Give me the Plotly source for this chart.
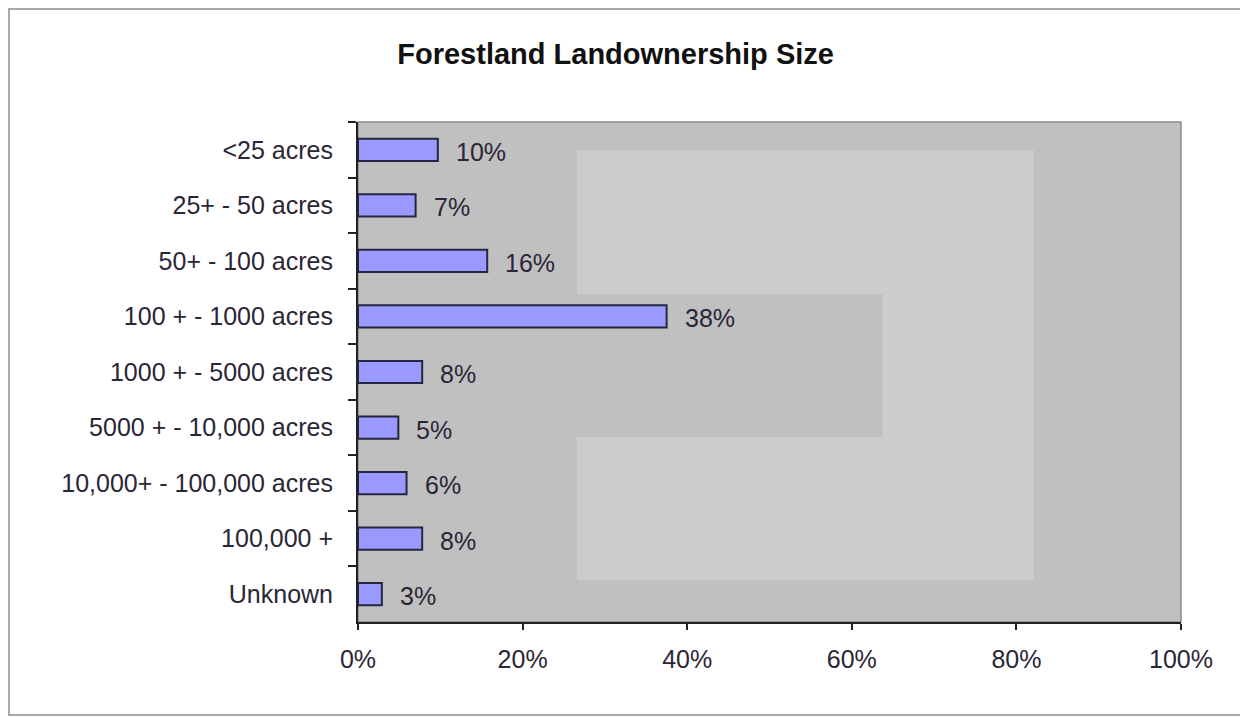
import plotly.graph_objects as go

categories = ["<25 acres", "25+ - 50 acres", "50+ - 100 acres", "100 + - 1000 acres",
              "1000 + - 5000 acres", "5000 + - 10,000 acres", "10,000+ - 100,000 acres",
              "100,000 +", "Unknown"]
values = [9.7, 7.0, 15.7, 37.5, 7.8, 4.9, 5.9, 7.8, 2.9]
value_labels = ["10%", "7%", "16%", "38%", "8%", "5%", "6%", "8%", "3%"]
x_ticks = [0, 20, 40, 60, 80, 100]
x_tick_labels = ["0%", "20%", "40%", "60%", "80%", "100%"]

FONT = "Liberation Sans, Arial, sans-serif"
TXT = "#2b2636"

fig = go.Figure()
fig.add_trace(go.Bar(
    y=categories, x=values, orientation="h",
    marker=dict(color="#9999ff", line=dict(color="#262640", width=2)),
    hoverinfo="skip",
))

annotations = []
for c, v, lab in zip(categories, values, value_labels):
    annotations.append(dict(x=v, y=c, xref="x", yref="y", text=lab, showarrow=False,
                            xanchor="left", xshift=16, yshift=-2,
                            font=dict(family=FONT, size=25, color=TXT)))

shapes = [
    # figure frame
    dict(type="rect", xref="paper", yref="paper", x0=-0.4241, x1=1.0790, y0=-0.186, y1=1.226,
         line=dict(color="#a8a8a8", width=2), layer="below"),
    # light background regions inside plot area
    dict(type="rect", xref="paper", yref="paper", x0=0.266, x1=0.821, y0=0.656, y1=0.944,
         fillcolor="#cccccc", line=dict(width=0), layer="below"),
    dict(type="rect", xref="paper", yref="paper", x0=0.637, x1=0.821, y0=0.370, y1=0.656,
         fillcolor="#cccccc", line=dict(width=0), layer="below"),
    dict(type="rect", xref="paper", yref="paper", x0=0.266, x1=0.821, y0=0.084, y1=0.370,
         fillcolor="#cccccc", line=dict(width=0), layer="below"),
    # plot top/right border
    dict(type="rect", xref="paper", yref="paper", x0=0, x1=1, y0=0, y1=1,
         line=dict(color="#8a8a8a", width=1.5), layer="below"),
]

fig.update_layout(
    width=1240, height=709,
    margin=dict(l=350, r=67, t=114, b=95),
    paper_bgcolor="white", plot_bgcolor="#c0c0c0",
    showlegend=False,
    bargap=0.6,
    title=dict(text="<b>Forestland Landownership Size</b>", x=0.490, xanchor="center",
               y=0.936, yanchor="middle",
               font=dict(family=FONT, size=29, color="#111111")),
    xaxis=dict(range=[0, 100], tickvals=x_ticks, ticktext=x_tick_labels,
               showgrid=False, zeroline=False, showline=True, linecolor="#222222", linewidth=2,
               ticks="outside", ticklen=6, tickwidth=2, tickcolor="#222222",
               ticklabelstandoff=8,
               tickfont=dict(family=FONT, size=25, color=TXT), fixedrange=True),
    yaxis=dict(categoryorder="array", categoryarray=categories, autorange="reversed",
               showgrid=False, zeroline=False, showline=True, linecolor="#222222", linewidth=2,
               ticks="outside", ticklen=8, tickwidth=2, tickcolor="#222222",
               tickson="boundaries", ticklabelstandoff=18,
               tickfont=dict(family=FONT, size=25, color=TXT), fixedrange=True),
    annotations=annotations,
    shapes=shapes,
)

fig.write_html("out.html")
